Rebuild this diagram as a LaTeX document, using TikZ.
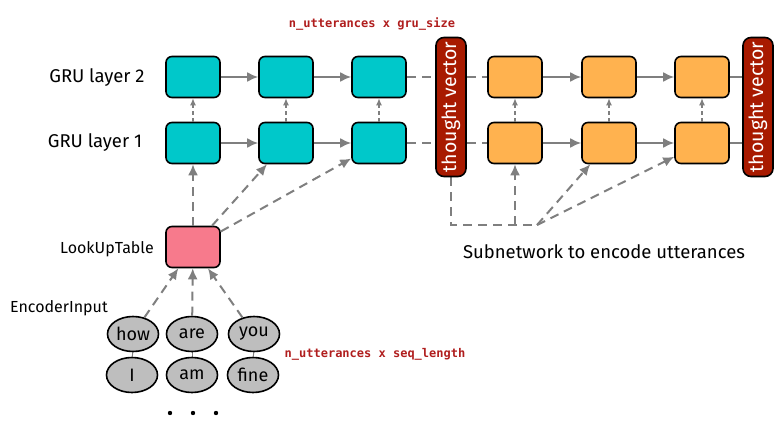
\documentclass[tikz,border=0pt]{standalone}
\usepackage{fontspec}
\setmainfont{Fira Sans}
\newfontfamily\sizefont{DejaVu Sans Mono}
\usetikzlibrary{arrows.meta,backgrounds,shapes.geometric}

\definecolor{grucyan}{HTML}{00C8CA}
\definecolor{decorange}{HTML}{FFB24F}
\definecolor{lookpink}{HTML}{F77A8C}
\definecolor{thoughtred}{HTML}{A81A00}
\definecolor{wordgray}{HTML}{BEBEBE}
\definecolor{sizered}{HTML}{B01E1E}
\definecolor{linkgray}{HTML}{7F7F7F}

\tikzset{
    cell/.style={draw=black, line width=1.6pt, rounded corners=6pt,
        minimum width=54pt, minimum height=41pt, inner sep=0pt},
    gru/.style={cell, fill=grucyan},
    dec/.style={cell, fill=decorange},
    lookup/.style={cell, fill=lookpink},
    thought/.style={draw=black, line width=1.6pt, rounded corners=8pt,
        fill=thoughtred, text=white, rotate=90, inner sep=0pt,
        minimum width=139pt, minimum height=30pt,
        font=\fontsize{19.5}{20}\selectfont},
    word/.style={ellipse, draw=black, line width=1.6pt, fill=wordgray,
        minimum width=51pt, minimum height=35pt, inner sep=0pt,
        font=\fontsize{18}{18}\selectfont},
    tag/.style={font=\fontsize{18.5}{20}\selectfont},
    smalltag/.style={font=\fontsize{16}{18}\selectfont},
    sizetag/.style={text=sizered, font=\sizefont\bfseries\fontsize{12}{14}\selectfont},
    link/.style={draw=linkgray, line width=2pt, -{Latex[length=11pt,width=10pt]}},
    dlink/.style={link, dash pattern=on 9pt off 6pt},
    dline/.style={draw=linkgray, line width=2pt, dash pattern=on 9pt off 6pt},
    uplink/.style={draw=linkgray, line width=1.2pt, dash pattern=on 4pt off 3pt,
        -{Latex[length=7pt,width=6pt]}},
}

\begin{document}
\begin{tikzpicture}[x=1pt, y=-1pt]
    \useasboundingbox (0,0) rectangle (778,441);

    % encoder GRU cells
    \node[gru] (e21) at (193,77) {};
    \node[gru] (e22) at (286,77) {};
    \node[gru] (e23) at (379,77) {};
    \node[gru] (e11) at (193,143) {};
    \node[gru] (e12) at (286,143) {};
    \node[gru] (e13) at (379,143) {};

    % subnetwork cells
    \node[dec] (d21) at (515,77) {};
    \node[dec] (d22) at (609,77) {};
    \node[dec] (d23) at (702,77) {};
    \node[dec] (d11) at (515,143) {};
    \node[dec] (d12) at (609,143) {};
    \node[dec] (d13) at (702,143) {};

    \node[thought] (tv1) at (451,107) {thought vector};
    \node[thought] (tv2) at (758,107) {thought vector};

    \node[lookup] (look) at (193,247) {};

    \node[word] (how) at (133,334) {how};
    \node[word] (are) at (192,334) {are};
    \node[word] (you) at (254,334) {you};
    \node[word] (i)   at (132,375) {I};
    \node[word] (am)  at (192,375) {am};
    \node[word] (fine) at (253,375) {fine};
    \fill (170,413) circle (2.2) (193,413) circle (2.2) (216,413) circle (2.2);

    % labels
    \node[tag] (l2) at (97,78) {GRU layer 2};
    \node[tag] (l1) at (95,143) {GRU layer 1};
    \node[smalltag] (lt) at (107,249) {LookUpTable};
    \node[smalltag] (ei) at (59,308) {EncoderInput};
    \node[tag] (sub) at (604,252) {Subnetwork to encode utterances};
    \node[sizetag] (gs) at (372,24) {n\_utterances x gru\_size};
    \node[sizetag] (sl) at (375,354) {n\_utterances x seq\_length};

    \coordinate (corner) at (451,225);
    \coordinate (fork) at (537,225);

    % recurrent links
    \draw[link] (e21) -- (e22);
    \draw[link] (e22) -- (e23);
    \draw[link] (e11) -- (e12);
    \draw[link] (e12) -- (e13);
    \draw[link] (d21) -- (d22);
    \draw[link] (d22) -- (d23);
    \draw[link] (d11) -- (d12);
    \draw[link] (d12) -- (d13);
    \draw[uplink] (e11) -- (e21);
    \draw[uplink] (e12) -- (e22);
    \draw[uplink] (e13) -- (e23);
    \draw[uplink] (d11) -- (d21);
    \draw[uplink] (d12) -- (d22);
    \draw[uplink] (d13) -- (d23);

    % inputs
    \draw[dlink] (look) -- (e11);
    \draw[dlink] (look) -- (e12);
    \draw[dlink] (look) -- (e13);
    \draw[dlink] (how) -- (look);
    \draw[dlink] (are) -- (look);
    \draw[dlink] (you) -- (look);
    \draw[dlink] (d11 |- fork) -- (d11);
    \draw[dlink] (fork) -- (d12);
    \draw[dlink] (fork) -- (d13);

    \begin{scope}[on background layer]
        \draw[dline] (e23) -- (d21);
        \draw[dline] (e13) -- (d11);
        \draw[draw=linkgray, line width=2pt] (d23) -- (tv2 |- d23);
        \draw[draw=linkgray, line width=2pt] (d13) -- (tv2 |- d13);
        \draw[dline] (tv1) -- (corner) -- (fork);
        \draw[draw=linkgray, line width=1pt] (i) -- (how);
        \draw[draw=linkgray, line width=1pt] (am) -- (are);
        \draw[draw=linkgray, line width=1pt] (fine) -- (you);
    \end{scope}
\end{tikzpicture}
\end{document}
